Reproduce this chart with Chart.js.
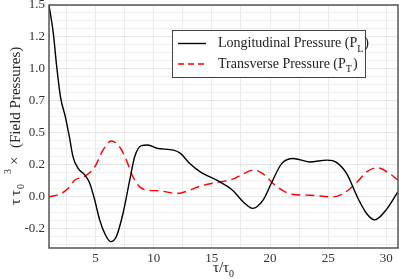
<!DOCTYPE html>
<html lang="en">
<head>
    <meta charset="UTF-8">
    <title>Field Pressures</title>
    <style>
        body {
            margin: 0;
            background: #fff;
        }
        .chart-box {
            position: relative;
            width: 399px;
            height: 279px;
        }
    </style>
</head>
<body>
    <div class="chart-box">
        <canvas id="pressureChart"></canvas>
    </div>

    <script src="https://cdn.jsdelivr.net/npm/chart.js"></script>
    <script>
        // Longitudinal pressure (black solid)
        const longX = [1, 1.37, 1.66, 1.99, 2.42, 2.75, 3.06, 3.49, 4.07, 4.5, 4.93, 5.36, 5.79, 6.3, 6.79, 7.36, 7.94, 8.37, 8.94, 9.5, 10.26, 11.7, 12.3, 13.1, 14.0, 15.7, 16.8, 17.7, 18.5, 19.4, 20.1, 21.0, 22.0, 23.4, 24.9, 25.7, 26.6, 27.5, 28.3, 29.0, 30.0, 31];
        const longY = [1.5, 1.28, 1.02, 0.78, 0.62, 0.47, 0.315, 0.224, 0.172, 0.107, -0.025, -0.182, -0.286, -0.35, -0.31, -0.13, 0.13, 0.315, 0.4, 0.405, 0.38, 0.365, 0.34, 0.26, 0.195, 0.117, 0.05, -0.04, -0.09, -0.026, 0.104, 0.26, 0.30, 0.273, 0.287, 0.27, 0.18, 0.0, -0.13, -0.18, -0.10, 0.04];

        // Transverse pressure (red dashed)
        const transX = [1, 2.06, 2.63, 3.2, 4.07, 4.93, 5.64, 6.36, 7.08, 7.65, 8.22, 8.8, 9.5, 10.5, 12.0, 13.1, 14.0, 15.7, 16.85, 17.7, 18.6, 19.4, 20.6, 22.0, 23.4, 25.4, 26.3, 27.5, 28.3, 29.2, 30.3, 31];
        const transY = [0.0, 0.026, 0.065, 0.13, 0.16, 0.234, 0.365, 0.437, 0.39, 0.287, 0.156, 0.078, 0.052, 0.047, 0.026, 0.052, 0.084, 0.117, 0.14, 0.18, 0.21, 0.18, 0.078, 0.018, 0.013, 0.0, 0.026, 0.117, 0.195, 0.227, 0.18, 0.13];

        // Axis ticks
        const xTickValues = [5, 10, 15, 20, 25, 30];
        const xGridValues = [2.5, 5, 7.5, 10, 12.5, 15, 17.5, 20, 22.5, 25, 27.5, 30];
        const yTickValues = [-0.25, 0, 0.25, 0.5, 0.75, 1.0, 1.25, 1.5];
        const yTickLabels = ['-0.2', '0.0', '0.2', '0.5', '0.7', '1.0', '1.2', '1.5'];

        const serif = "'Liberation Serif', 'Times New Roman', serif";

        // minor horizontal grid every 1/16
        const yGridValues = [];
        for (let i = -6; i <= 24; i++) yGridValues.push(i / 16);

        const legendItems = [
            { text: 'Longitudinal Pressure (P', sub: 'L', color: '#000', dash: [] },
            { text: 'Transverse Pressure (P', sub: 'T', color: '#ff0000', dash: [6, 4] }
        ];

        const decorations = {
            id: 'decorations',
            afterDraw(chart) {
                const ctx = chart.ctx;
                const a = chart.chartArea;

                // frame
                ctx.save();
                ctx.strokeStyle = '#555';
                ctx.lineWidth = 1.5;
                ctx.strokeRect(a.left, a.top, a.right - a.left, a.bottom - a.top);
                ctx.restore();

                // x title: tau/tau_0
                ctx.save();
                ctx.fillStyle = '#222';
                ctx.textBaseline = 'alphabetic';
                ctx.font = '15px ' + serif;
                const main = 'τ/τ';
                const mw = ctx.measureText(main).width;
                ctx.font = '10px ' + serif;
                const sw = ctx.measureText('0').width;
                let tx = (a.left + a.right) / 2 - (mw + sw) / 2;
                ctx.font = '15px ' + serif;
                ctx.fillText(main, tx, 272);
                ctx.font = '10px ' + serif;
                ctx.fillText('0', tx + mw, 277);
                ctx.restore();

                // y title: tau tau_0^3 x (Field Pressures)
                ctx.save();
                ctx.fillStyle = '#222';
                ctx.translate(19.5, 205);
                ctx.rotate(-Math.PI / 2);
                ctx.textBaseline = 'alphabetic';
                ctx.font = '15px ' + serif;
                ctx.fillText('τ', 0, 0);
                ctx.fillText('τ', 9, 0);
                ctx.font = '10px ' + serif;
                ctx.fillText('0', 16, 4);
                ctx.fillText('3', 31, -9);
                ctx.font = '15px ' + serif;
                ctx.fillText('×', 40, -1);
                ctx.fillText('(Field Pressures)', 57, 0);
                ctx.restore();

                // legend
                ctx.save();
                ctx.fillStyle = '#fff';
                ctx.fillRect(172, 30, 193, 48);
                ctx.strokeStyle = '#444';
                ctx.lineWidth = 1;
                ctx.strokeRect(172.5, 30.5, 193, 47);
                legendItems.forEach((item, i) => {
                    const ly = 43.5 + i * 20.5;
                    ctx.beginPath();
                    ctx.setLineDash(item.dash);
                    ctx.strokeStyle = item.color;
                    ctx.lineWidth = 1.4;
                    ctx.moveTo(178, ly);
                    ctx.lineTo(206, ly);
                    ctx.stroke();
                    ctx.setLineDash([]);
                    ctx.fillStyle = '#222';
                    ctx.font = '14px ' + serif;
                    ctx.fillText(item.text, 218, ly + 3.5);
                    const w = ctx.measureText(item.text).width;
                    ctx.font = '10px ' + serif;
                    ctx.fillText(item.sub, 218 + w, ly + 8);
                    const w2 = ctx.measureText(item.sub).width;
                    ctx.font = '14px ' + serif;
                    ctx.fillText(')', 218 + w + w2 + 1, ly + 3.5);
                });
                ctx.restore();
            }
        };

        const ctx = document.getElementById('pressureChart').getContext('2d');
        new Chart(ctx, {
            type: 'line',
            data: {
                datasets: [
                    {
                        label: 'Longitudinal Pressure (PL)',
                        data: longX.map((x, i) => ({ x: x, y: longY[i] })),
                        borderColor: '#000',
                        borderWidth: 1.4,
                        pointRadius: 0,
                        cubicInterpolationMode: 'monotone',
                        fill: false
                    },
                    {
                        label: 'Transverse Pressure (PT)',
                        data: transX.map((x, i) => ({ x: x, y: transY[i] })),
                        borderColor: '#ff0000',
                        borderWidth: 1.4,
                        borderDash: [9, 5],
                        pointRadius: 0,
                        cubicInterpolationMode: 'monotone',
                        fill: false
                    }
                ]
            },
            options: {
                responsive: true,
                maintainAspectRatio: false,
                animation: false,
                layout: { padding: { left: 0, right: 1, top: 5, bottom: 0 } },
                plugins: {
                    legend: { display: false },
                    tooltip: { enabled: false }
                },
                scales: {
                    x: {
                        type: 'linear',
                        min: 1,
                        max: 31,
                        afterBuildTicks: function(scale) {
                            scale.ticks = xGridValues.map(v => ({ value: v }));
                        },
                        afterFit: function(scale) {
                            scale.height = 31;
                            scale.paddingLeft = 0;
                            scale.paddingRight = 0;
                        },
                        ticks: {
                            autoSkip: false,
                            maxRotation: 0,
                            padding: 3,
                            color: '#333',
                            font: { family: serif, size: 13 },
                            callback: function(value) {
                                return xTickValues.includes(value) ? String(value) : '';
                            }
                        },
                        grid: {
                            color: '#ebebeb',
                            drawTicks: false
                        },
                        border: { display: false }
                    },
                    y: {
                        min: -0.4,
                        max: 1.5,
                        afterBuildTicks: function(scale) {
                            scale.ticks = yGridValues.map(v => ({ value: v }));
                        },
                        afterFit: function(scale) {
                            scale.width = 49;
                            scale.paddingTop = 0;
                            scale.paddingBottom = 0;
                        },
                        ticks: {
                            autoSkip: false,
                            padding: 4,
                            color: '#333',
                            font: { family: serif, size: 13 },
                            callback: function(value) {
                                const idx = yTickValues.findIndex(v => Math.abs(v - value) < 1e-6);
                                return idx >= 0 ? yTickLabels[idx] : '';
                            }
                        },
                        grid: {
                            color: function(c) {
                                const v = c.tick ? c.tick.value : 0;
                                return Math.abs(v * 4 - Math.round(v * 4)) < 1e-6 ? '#e6e6e6' : '#f0f0f0';
                            },
                            drawTicks: false
                        },
                        border: { display: false }
                    }
                }
            },
            plugins: [decorations]
        });
    </script>
</body>
</html>
